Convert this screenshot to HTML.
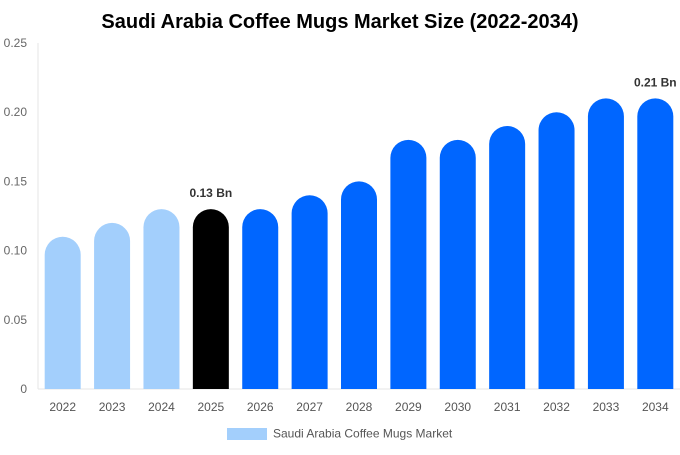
<!DOCTYPE html>
<html><head><meta charset="utf-8">
<style>
body{margin:0;background:#fff;font-family:"Liberation Sans",Arial,sans-serif;}
svg text{font-family:"Liberation Sans",Arial,sans-serif;}
</style></head>
<body>
<svg id="chart" width="680" height="450" xmlns="http://www.w3.org/2000/svg">
<text x="340" y="28" text-anchor="middle" font-size="20" font-weight="bold" fill="#000">Saudi Arabia Coffee Mugs Market Size (2022-2034)</text>
<g id="axes"></g>
<g id="bars"></g>
<g>
<rect x="227" y="428" width="40" height="12" fill="#a3cffc"/>
<text x="273" y="437.5" font-size="12" fill="#555">Saudi Arabia Coffee Mugs Market</text>
</g>
</svg>
<script>
const categories=["2022","2023","2024","2025","2026","2027","2028","2029","2030","2031","2032","2033","2034"];
const values=[0.11,0.12,0.13,0.13,0.13,0.14,0.15,0.18,0.18,0.19,0.20,0.21,0.21];
const yTicks=[0,0.05,0.10,0.15,0.20,0.25];
const yTickLabels=["0","0.05","0.10","0.15","0.20","0.25"];
const annotations={3:"0.13 Bn",12:"0.21 Bn"};
const NS="http://www.w3.org/2000/svg";
const x0=38,x1=680,yTop=43,yBot=389,yMax=0.25;
const band=(x1-x0)/categories.length,bw=36;
const y=v=>yBot-(v/yMax)*(yBot-yTop);
const xc=i=>x0+band*(i+0.5);
function mk(t,a,p){const e=document.createElementNS(NS,t);for(const k in a)e.setAttribute(k,a[k]);p.appendChild(e);return e;}
const axes=document.getElementById('axes'),bars=document.getElementById('bars');
const yl=mk('line',{x1:x0,x2:x0,y1:yTop,y2:yBot,stroke:'#e6e6e6'},axes);


const xl=mk('line',{x1:x0,x2:x1,y1:yBot,y2:yBot,stroke:'#e6e6e6'},axes);


yTicks.forEach((v,i)=>{const t=mk('text',{x:27,y:y(v)+4,'text-anchor':'end','font-size':12,fill:'#666'},axes);t.textContent=yTickLabels[i];

});
categories.forEach((c,i)=>{
 const cx=xc(i),top=y(values[i]),r=bw/2,l=cx-r;
 const col=i<3?'#a3cffc':(i===3?'#000000':'#0066ff');
 const h=yBot-top;
 const d=`M${l},${yBot} L${l},${top+r} A${r},${r} 0 0 1 ${l+bw},${top+r} L${l+bw},${yBot} Z`;
 const p=mk('path',{d:d,fill:col},bars);
 
 
 const t=mk('text',{x:cx,y:yBot+22,'text-anchor':'middle','font-size':12,fill:'#555'},axes);t.textContent=c;
 
 
 if(annotations[i]){const a=mk('text',{x:cx,y:top-12,'text-anchor':'middle','font-size':12,'font-weight':'bold',fill:'#333'},bars);a.textContent=annotations[i];
 
 }
});
</script>
</body></html>
